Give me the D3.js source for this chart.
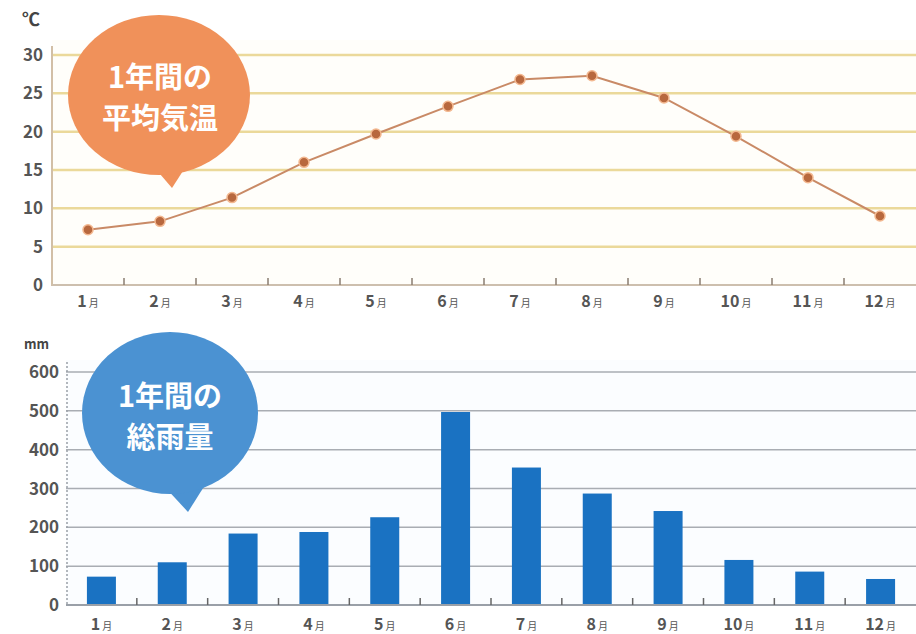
<!DOCTYPE html>
<html>
<head>
<meta charset="utf-8">
<script src="https://cdn.jsdelivr.net/npm/d3@7"></script>
<style>
  body { margin: 0; background: #fff; }
  svg text { font-family: "Noto Sans CJK JP", "Noto Sans", sans-serif; }
</style>
</head>
<body>
<div id="chart"></div>
<script>
// 月ラベル
var months = ["1","2","3","4","5","6","7","8","9","10","11","12"];
// 平均気温 (℃)
var tempValues = [7.2, 8.3, 11.4, 16.0, 19.7, 23.3, 26.8, 27.3, 24.4, 19.4, 14.0, 9.0];
var tempTicks = [0, 5, 10, 15, 20, 25, 30];
// 総雨量 (mm)
var rainValues = [73, 110, 184, 188, 226, 497, 354, 287, 242, 116, 86, 67];
var rainTicks = [0, 100, 200, 300, 400, 500, 600];

var W = 916, H = 634;
var svg = d3.select("#chart").append("svg")
  .attr("width", W).attr("height", H);

// ---------- 上: 気温 ----------
var x1 = d3.scaleBand().domain(months).range([52, 916]);
var y1 = d3.scaleLinear().domain([0, 30]).range([285, 55]);

svg.append("rect").attr("x", 52).attr("y", 40).attr("width", 864).attr("height", 245)
  .attr("fill", "#fffefa");

svg.append("g").selectAll("line").data(tempTicks.slice(1)).enter().append("line")
  .attr("x1", 52).attr("x2", 916)
  .attr("y1", function(d){ return y1(d); }).attr("y2", function(d){ return y1(d); })
  .attr("stroke", "#ebd99a").attr("stroke-width", 2.5);

// 軸
svg.append("line").attr("x1", 52).attr("x2", 52).attr("y1", 46).attr("y2", 286)
  .attr("stroke", "#d2bfa6").attr("stroke-width", 2);
svg.append("line").attr("x1", 52).attr("x2", 916).attr("y1", 285).attr("y2", 285)
  .attr("stroke", "#cdbfae").attr("stroke-width", 2);
svg.append("g").selectAll("line").data(months.slice(1)).enter().append("line")
  .attr("x1", function(d){ return x1(d); }).attr("x2", function(d){ return x1(d); })
  .attr("y1", 278).attr("y2", 285)
  .attr("stroke", "#8a7d70").attr("stroke-width", 1.5);

svg.append("g").selectAll("text").data(tempTicks).enter().append("text")
  .attr("x", 43).attr("y", function(d){ return y1(d) + 6; })
  .attr("text-anchor", "end").attr("font-size", 17).attr("font-weight", "bold").attr("fill", "#555")
  .text(function(d){ return d; });
svg.append("text").attr("x", 22).attr("y", 26).attr("font-size", 18).attr("font-weight", "bold")
  .attr("fill", "#444").text("℃");

var lbl1 = svg.append("g").selectAll("text").data(months).enter().append("text")
  .attr("x", function(d){ return x1(d) + x1.bandwidth()/2; }).attr("y", 307)
  .attr("text-anchor", "middle").attr("fill", "#555");
lbl1.append("tspan").attr("font-size", 16).attr("font-weight", "bold").text(function(d){ return d; });
lbl1.append("tspan").attr("font-size", 10).attr("dx", 2).text("月");

var line = d3.line()
  .x(function(d, i){ return x1(months[i]) + x1.bandwidth()/2; })
  .y(function(d){ return y1(d); });
svg.append("path").datum(tempValues).attr("d", line)
  .attr("fill", "none").attr("stroke", "#c98a66").attr("stroke-width", 2);
svg.append("g").selectAll("circle").data(tempValues).enter().append("circle")
  .attr("cx", function(d, i){ return x1(months[i]) + x1.bandwidth()/2; })
  .attr("cy", function(d){ return y1(d); })
  .attr("r", 5).attr("fill", "#b8683e").attr("stroke", "#f3b890").attr("stroke-width", 1.5);

// 吹き出し (オレンジ)
svg.append("path").attr("d", "M148,160 L190,160 L172,188 Z").attr("fill", "#f0915a");
svg.append("ellipse").attr("cx", 159).attr("cy", 95).attr("rx", 91).attr("ry", 80).attr("fill", "#f0915a");
svg.append("text").attr("x", 160).attr("y", 88).attr("text-anchor", "middle")
  .attr("font-size", 29).attr("font-weight", "bold").attr("fill", "#fff").text("1年間の");
svg.append("text").attr("x", 160).attr("y", 129).attr("text-anchor", "middle")
  .attr("font-size", 29).attr("font-weight", "bold").attr("fill", "#fff").text("平均気温");

// ---------- 下: 雨量 ----------
var xb = d3.scaleBand().domain(months).range([66, 916]);
var y2 = d3.scaleLinear().domain([0, 600]).range([605, 372]);

svg.append("rect").attr("x", 66).attr("y", 360).attr("width", 850).attr("height", 245)
  .attr("fill", "#fbfdff");

svg.append("g").selectAll("line").data(rainTicks.slice(1)).enter().append("line")
  .attr("x1", 66).attr("x2", 916)
  .attr("y1", function(d){ return y2(d); }).attr("y2", function(d){ return y2(d); })
  .attr("stroke", "#a9adb3").attr("stroke-width", 1.5);

svg.append("line").attr("x1", 67).attr("x2", 67).attr("y1", 362).attr("y2", 606)
  .attr("stroke", "#9aa0a8").attr("stroke-width", 1.5).attr("stroke-dasharray", "2,2");

svg.append("g").selectAll("rect").data(rainValues).enter().append("rect")
  .attr("x", function(d, i){ return xb(months[i]) + xb.bandwidth()/2 - 14.5; })
  .attr("width", 29)
  .attr("y", function(d){ return y2(d); })
  .attr("height", function(d){ return y2(0) - y2(d); })
  .attr("fill", "#1a72c2");

svg.append("line").attr("x1", 66).attr("x2", 916).attr("y1", 605).attr("y2", 605)
  .attr("stroke", "#9aa0a8").attr("stroke-width", 2);
svg.append("g").selectAll("line").data(months.slice(1)).enter().append("line")
  .attr("x1", function(d){ return xb(d); }).attr("x2", function(d){ return xb(d); })
  .attr("y1", 598).attr("y2", 605)
  .attr("stroke", "#666").attr("stroke-width", 1.5);

svg.append("g").selectAll("text").data(rainTicks).enter().append("text")
  .attr("x", 59).attr("y", function(d){ return y2(d) + 6; })
  .attr("text-anchor", "end").attr("font-size", 17).attr("font-weight", "bold").attr("fill", "#555")
  .text(function(d){ return d; });
svg.append("text").attr("x", 24).attr("y", 349).attr("font-size", 13).attr("font-weight", "bold")
  .attr("fill", "#444").text("mm");

var lbl2 = svg.append("g").selectAll("text").data(months).enter().append("text")
  .attr("x", function(d){ return xb(d) + xb.bandwidth()/2; }).attr("y", 630)
  .attr("text-anchor", "middle").attr("fill", "#555");
lbl2.append("tspan").attr("font-size", 16).attr("font-weight", "bold").text(function(d){ return d; });
lbl2.append("tspan").attr("font-size", 10).attr("dx", 2).text("月");

// 吹き出し (青)
svg.append("path").attr("d", "M163,485 L205,485 L188,512 Z").attr("fill", "#4b92d2");
svg.append("ellipse").attr("cx", 170).attr("cy", 413).attr("rx", 88).attr("ry", 81).attr("fill", "#4b92d2");
svg.append("text").attr("x", 170).attr("y", 407).attr("text-anchor", "middle")
  .attr("font-size", 29).attr("font-weight", "bold").attr("fill", "#fff").text("1年間の");
svg.append("text").attr("x", 170).attr("y", 448).attr("text-anchor", "middle")
  .attr("font-size", 29).attr("font-weight", "bold").attr("fill", "#fff").text("総雨量");
</script>
</body>
</html>
